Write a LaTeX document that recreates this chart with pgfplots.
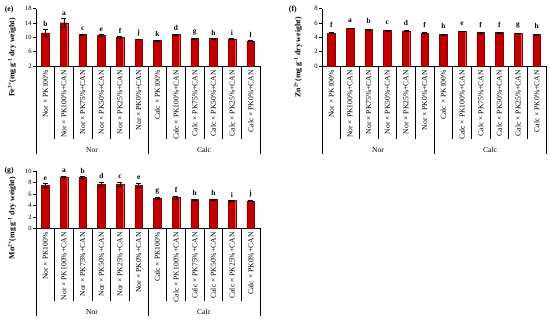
\documentclass[border=0pt]{standalone}
\usepackage{fontspec}
\setmainfont{Liberation Serif}
\usepackage{pgfplots}
\usepackage{pgfplotstable}
\pgfplotsset{compat=1.18}
\definecolor{barred}{RGB}{192,0,0}

\pgfplotstableread{
x y e lab
0 11.25 0.9 b
1 14.1 1.2 a
2 10.8 0.15 c
3 10.5 0.3 e
4 10.0 0.2 f
5 9.45 0.1 j
6 9.15 0.15 k
7 10.8 0.15 d
8 9.65 0.1 g
9 9.65 0.1 h
10 9.6 0.1 i
11 9.0 0.1 l
}\fedata

\pgfplotstableread{
x y e lab
0 4.62 0.04 f
1 5.28 0.05 a
2 5.09 0.04 b
3 4.95 0.04 c
4 4.90 0.04 d
5 4.62 0.04 f
6 4.40 0.04 h
7 4.86 0.05 e
8 4.67 0.04 f
9 4.67 0.04 f
10 4.58 0.04 g
11 4.40 0.04 h
}\zndata

\pgfplotstableread{
x y e lab
0 7.5 0.35 e
1 9.0 0.15 a
2 8.9 0.15 b
3 7.7 0.4 d
4 7.7 0.4 c
5 7.5 0.4 e
6 5.23 0.15 g
7 5.4 0.25 f
8 5.05 0.1 h
9 5.05 0.1 h
10 4.83 0.05 i
11 4.78 0.05 j
}\mndata

\pgfplotsset{
  panel/.style={
    scale only axis, width=224pt, height=57.3pt,
    anchor=south west,
    xmin=-0.5, xmax=11.5,
    axis x line*=bottom, axis y line*=left,
    xtick={0,...,11},
    xticklabels={Nor × PK100\%, Nor × PK100\%+CAN, Nor × PK75\%+CAN, Nor × PK50\%+CAN, Nor × PK25\%+CAN, Nor × PK0\%+CAN, Calc × PK100\%, Calc × PK100\%+CAN, Calc × PK75\%+CAN, Calc × PK50\%+CAN, Calc × PK25\%+CAN, Calc × PK0\%+CAN},
    x tick label style={rotate=90, anchor=east, font=\fontsize{7.6}{8}\selectfont, inner sep=1.5pt},
    xtick style={draw=none},
    y tick label style={font=\fontsize{6.6}{7}\selectfont, inner sep=1.5pt},
    ytick style={black, line width=0.5pt},
    tick align=outside, major tick length=2.5pt,
    clip mode=individual,
    /pgf/number format/assume math mode=true,
    ylabel style={font=\bfseries\fontsize{7.8}{8}\selectfont, anchor=center},
    axis line style={black, line width=0.6pt},
  },
  barplot/.style={ybar, bar width=7.5pt, fill=barred, draw=barred!75!black, line width=0.3pt,
    error bars/.cd, y dir=both, y explicit,
    error bar style={black, line width=0.5pt},
    error mark options={rotate=90, mark size=2.5pt, black, line width=0.5pt}},
  letterplot/.style={draw=none, mark=none, nodes near coords, point meta=explicit symbolic,
    nodes near coords style={anchor=south, font=\bfseries\fontsize{7.4}{8}\selectfont, inner sep=1pt, yshift=#1, text=black}},
}

\newcommand{\groupdeco}[1]{%
  \pgfplotsinvokeforeach{0.5,1.5,2.5,3.5,4.5,6.5,7.5,8.5,9.5,10.5}{\draw[line width=0.6pt] (axis cs:##1,#1) -- ++(0pt,-73pt);}
  \pgfplotsinvokeforeach{-0.5,5.5,11.5}{\draw[line width=0.6pt] (axis cs:##1,#1) -- ++(0pt,-88pt);}
  \node[font=\fontsize{7.6}{8}\selectfont, yshift=-84pt] at (axis cs:2.5,#1) {Nor};
  \node[font=\fontsize{7.6}{8}\selectfont, yshift=-84pt] at (axis cs:8.5,#1) {Calc};
}

\begin{document}
\begin{tikzpicture}
\path[use as bounding box] (0,0) rectangle (550pt,322pt);

% (e) Fe
\begin{axis}[panel, at={(36pt,256pt)},
  ymin=2, ymax=18, ytick={2,6,10,14,18},
  ylabel={Fe\textsuperscript{3+}(mg g\textsuperscript{-1} dry weight)},
  ylabel style={at={(rel axis cs:-0.107,0.15)}}]
\addplot[barplot] table[x=x, y=y, y error=e]{\fedata};
\addplot[letterplot=2pt] table[x=x, y expr=\thisrow{y}+\thisrow{e}, meta=lab]{\fedata};
\groupdeco{2}
\node[font=\bfseries\fontsize{7.8}{8}\selectfont] at (rel axis cs:-0.12,0.98) {(e)};
\end{axis}

% (f) Zn
\begin{axis}[panel, at={(322pt,256pt)},
  ymin=0, ymax=8, ytick={0,2,4,6,8},
  ylabel={Zn\textsuperscript{2+}(mg g\textsuperscript{-1} dry weight)},
  ylabel style={at={(rel axis cs:-0.107,0.15)}}]
\addplot[barplot] table[x=x, y=y, y error=e]{\zndata};
\addplot[letterplot=4pt] table[x=x, y expr=\thisrow{y}+\thisrow{e}, meta=lab]{\zndata};
\groupdeco{0}
\node[font=\bfseries\fontsize{7.8}{8}\selectfont] at (rel axis cs:-0.13,0.98) {(f)};
\end{axis}

% (g) Mn
\begin{axis}[panel, at={(36pt,93.7pt)},
  ymin=0, ymax=10, ytick={0,2,4,6,8,10},
  ylabel={Mn\textsuperscript{2+}(mg g\textsuperscript{-1} dry weight)},
  ylabel style={at={(rel axis cs:-0.107,0.18)}}]
\addplot[barplot] table[x=x, y=y, y error=e]{\mndata};
\addplot[letterplot=2pt] table[x=x, y expr=\thisrow{y}+\thisrow{e}, meta=lab]{\mndata};
\groupdeco{0}
\node[font=\bfseries\fontsize{7.8}{8}\selectfont] at (rel axis cs:-0.12,1.0) {(g)};
\end{axis}
\end{tikzpicture}
\end{document}
